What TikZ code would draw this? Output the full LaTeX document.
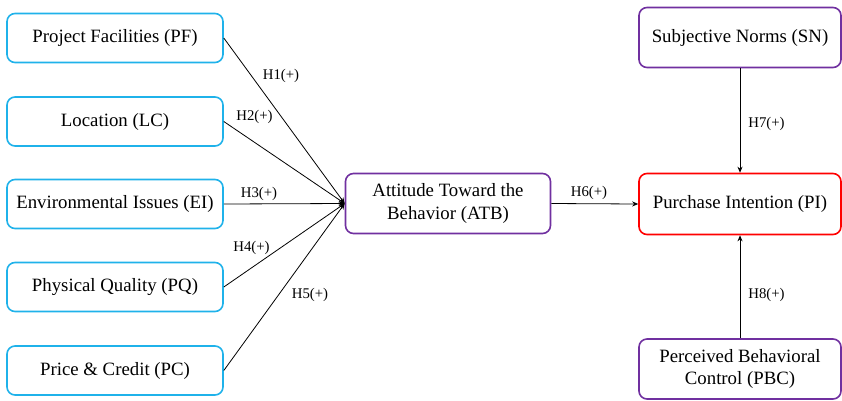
\documentclass[tikz,border=0pt]{standalone}
\usepackage{fontspec}
\setmainfont{Liberation Serif}
\newfontfamily\tnr{Liberation Serif}
\usetikzlibrary{arrows.meta}
\definecolor{boxcyan}{HTML}{1FB2EA}
\definecolor{boxpurple}{HTML}{7030A0}
\definecolor{boxred}{HTML}{FF0000}
\begin{document}
\begin{tikzpicture}[x=1pt,y=1pt,
  base/.style={rectangle, rounded corners=8pt, line width=1.6pt, fill=white,
    align=center, inner sep=2pt, font=\tnr\fontsize{18.8}{22.5}\selectfont},
  leftbox/.style={base, draw=boxcyan, minimum width=216pt, minimum height=49pt},
  midbox/.style={base, draw=boxpurple, minimum width=205pt, minimum height=60pt},
  rightp/.style={base, draw=boxpurple, minimum width=202pt, minimum height=60pt},
  rightr/.style={base, draw=boxred, minimum width=202pt, minimum height=61pt},
  hyp/.style={font=\tnr\fontsize{14.8}{17}\selectfont, inner sep=0pt},
  conn/.style={line width=0.8pt, -{Stealth[length=6pt,width=5pt]}}
]
\useasboundingbox (0,0) rectangle (842,-400);
\node[leftbox] (PF) at (115,-38) {Project Facilities (PF)};
\node[leftbox] (LC) at (115,-121.5) {Location (LC)};
\node[leftbox] (EI) at (115,-204) {Environmental Issues (EI)};
\node[leftbox] (PQ) at (115,-287) {Physical Quality (PQ)};
\node[leftbox] (PC) at (115,-370.5) {Price \& Credit (PC)};
\node[midbox] (ATB) at (448,-203.5) {Attitude Toward the\\Behavior (ATB)};
\node[rightr] (PI) at (740,-204) {Purchase Intention (PI)};
\node[rightp] (SN) at (740,-37.5) {Subjective Norms (SN)};
\node[rightp] (PBC) at (740,-369) {Perceived Behavioral\\Control (PBC)};

\draw[conn] (PF.east) -- (ATB.west);
\draw[conn] (LC.east) -- (ATB.west);
\draw[conn] (EI.east) -- (ATB.west);
\draw[conn] (PQ.east) -- (ATB.west);
\draw[conn] (PC.east) -- (ATB.west);
\draw[conn] (ATB.east) -- (PI.west);
\draw[conn] (SN.south) -- (PI.north);
\draw[conn] (PBC.north) -- (PI.south);

\node[hyp] (h1) at (281,-76) {H1(+)};
\node[hyp] (h2) at (254.5,-117) {H2(+)};
\node[hyp] (h3) at (259,-193.5) {H3(+)};
\node[hyp] (h4) at (251.5,-247.5) {H4(+)};
\node[hyp] (h5) at (310,-295) {H5(+)};
\node[hyp] (h6) at (589,-192.5) {H6(+)};
\node[hyp] (h7) at (766.5,-124) {H7(+)};
\node[hyp] (h8) at (766.5,-295) {H8(+)};
\end{tikzpicture}
\end{document}
